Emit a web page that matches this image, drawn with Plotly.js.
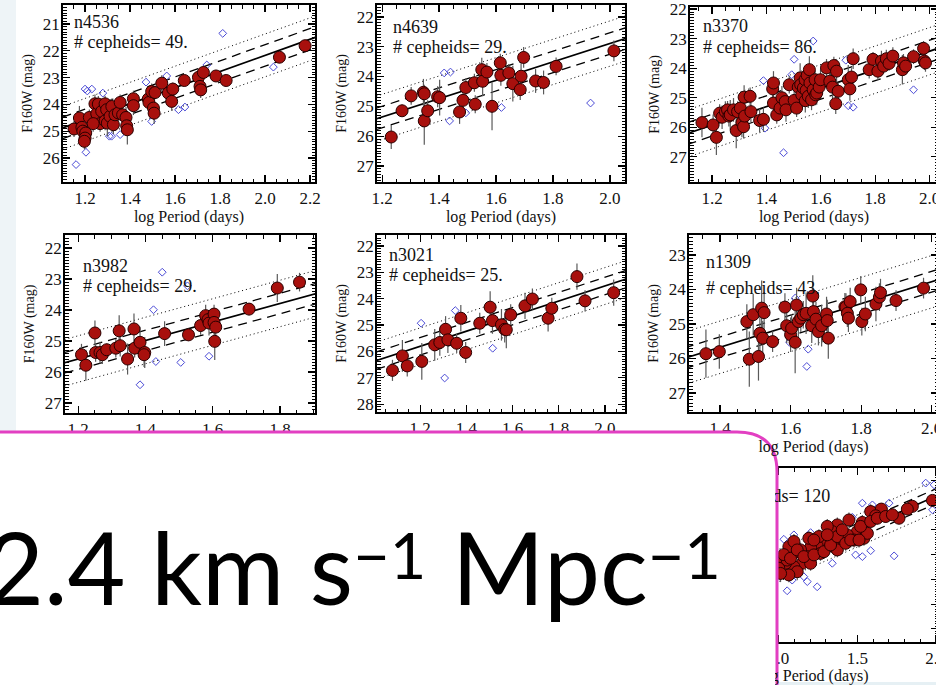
<!DOCTYPE html>
<html><head><meta charset="utf-8">
<script src="https://cdn.plot.ly/plotly-3.0.1.min.js"></script>
<style>html,body{margin:0;padding:0;overflow:hidden;background:#fff}#chart{width:980px;height:685px}</style>
</head><body><div id="chart"></div>
<script>
// ---------------- data ----------------
const p1Name = 'n4536', p1Count = '# cepheids= 49.';
const p1X = [1.151,1.175,1.186,1.190,1.203,1.200,1.197,1.219,1.244,1.252,1.259,1.267,1.274,1.289,1.289,1.296,1.299,1.311,1.319,1.326,1.333,1.348,1.356,1.367,1.382,1.385,1.388,1.415,1.415,1.481,1.484,1.496,1.504,1.507,1.511,1.541,1.570,1.585,1.590,1.641,1.704,1.711,1.714,1.726,1.782,1.827,2.064,2.178,1.236];
const p1Y = [24.92,24.51,24.86,25.00,25.07,25.26,25.38,24.49,23.98,24.35,23.99,24.72,24.26,23.98,24.62,24.20,24.70,24.45,24.08,24.76,24.39,24.32,23.93,24.39,24.49,24.80,24.95,23.79,24.05,23.80,23.93,23.52,24.14,24.33,23.56,23.21,23.58,23.89,23.43,23.11,22.99,23.33,23.46,22.81,22.94,23.11,22.24,21.81,24.72];
const p1Err = [0.3,0.45,0.3,0.25,0.35,0.4,0.3,0.3,0.35,0.4,0.3,0.3,0.45,0.3,0.35,0.4,0.5,0.35,0.3,0.35,0.4,0.3,0.3,0.35,0.4,0.3,0.55,0.3,0.35,0.3,0.25,0.3,0.3,0.4,0.25,0.3,0.3,0.35,0.25,0.2,0.3,0.35,0.3,0.25,0.2,0.2,0.15,0.15,0.3];
const p1RejX = [1.16,1.20,1.21,1.23,1.204,1.279,1.308,1.318,1.356,1.471,1.496,1.563,1.615,1.644,1.741,1.812,2.037];
const p1RejY = [26.25,23.43,23.50,23.43,25.79,23.58,25.19,25.19,25.13,23.17,24.64,22.94,24.20,24.10,22.53,21.35,22.61];
const p1FitX = [1.10, 2.23], p1FitY = [24.88, 21.48], p1Band = [0.40, 0.80];

const p2Name = 'n4639', p2Count = '# cepheids= 29.';
const p2X = [1.232,1.270,1.302,1.345,1.348,1.348,1.360,1.395,1.402,1.472,1.484,1.494,1.524,1.527,1.550,1.553,1.568,1.586,1.615,1.617,1.645,1.659,1.685,1.688,1.697,1.739,1.767,1.811,2.014];
const p2Y = [26.03,25.15,24.65,24.53,24.58,25.49,25.15,24.68,24.71,25.19,24.80,24.37,24.21,24.93,23.77,24.16,23.85,25.00,23.54,23.96,23.88,24.24,24.44,23.99,23.36,24.15,24.20,23.66,23.14];
const p2Err = [0.4,0.2,0.3,0.45,0.3,0.8,0.35,0.35,0.6,0.4,0.35,0.3,0.3,0.3,0.4,0.5,0.3,0.8,0.3,0.35,0.3,0.6,0.35,0.5,0.35,0.4,0.4,0.3,0.35];
const p2RejX = [1.418,1.440,1.437,1.494,1.619,1.932];
const p2RejY = [23.88,23.85,25.49,25.22,25.04,24.89];
const p2FitX = [1.18, 2.06], p2FitY = [25.42, 22.71], p2Band = [0.36, 0.76];

const p3Name = 'n3370', p3Count = '# cepheids= 86.';
const p3X = [1.163,1.204,1.216,1.228,1.237,1.249,1.257,1.262,1.267,1.279,1.289,1.294,1.304,1.310,1.316,1.318,1.320,1.340,1.343,1.375,1.389,1.423,1.426,1.426,1.438,1.450,1.457,1.469,1.472,1.484,1.502,1.511,1.517,1.524,1.526,1.530,1.536,1.542,1.543,1.546,1.550,1.554,1.558,1.560,1.566,1.572,1.579,1.581,1.585,1.594,1.599,1.621,1.633,1.643,1.648,1.655,1.658,1.664,1.701,1.707,1.713,1.719,1.778,1.792,1.810,1.823,1.831,1.841,1.851,1.865,1.900,1.904,1.912,1.941,1.978,1.981,1.985];
const p3Y = [25.84,25.92,26.34,25.52,25.66,25.47,25.41,25.62,25.58,25.41,26.11,25.47,25.35,25.84,25.98,24.98,25.62,24.95,25.47,25.77,25.73,24.70,24.50,25.18,25.58,25.35,25.00,25.13,25.41,24.56,25.09,25.35,24.64,24.33,24.56,24.90,24.67,24.39,25.10,24.75,24.24,24.95,24.05,24.50,25.07,24.73,24.39,24.90,24.84,24.64,24.39,23.99,24.44,24.64,23.91,25.20,24.10,24.78,24.39,24.70,24.30,23.68,24.05,23.70,24.10,23.76,23.93,23.68,23.84,23.59,24.05,23.82,23.93,23.61,23.33,23.76,23.82];
const p3Err = [0.5,0.35,0.6,0.3,0.4,0.35,0.3,0.35,0.5,0.4,0.6,0.35,0.3,0.5,0.4,0.4,0.3,0.3,0.35,0.4,0.4,0.3,0.4,0.35,0.3,0.35,0.4,0.3,0.4,0.3,0.35,0.3,0.4,0.5,0.3,0.35,0.4,0.3,0.4,0.35,0.3,0.4,0.45,0.3,0.35,0.4,0.3,0.35,0.4,0.3,0.35,0.3,0.35,0.4,0.3,0.35,0.4,0.3,0.5,0.4,0.3,0.35,0.3,0.25,0.3,0.35,0.25,0.3,0.25,0.3,0.5,0.3,0.3,0.25,0.25,0.3,0.3];
const p3RejX = [1.389,1.395,1.463,1.502,1.493,1.572,1.692,1.701,1.719,1.941];
const p3RejY = [24.42,26.03,26.86,23.70,24.22,23.08,23.73,25.27,25.32,24.73];
const p3FitX = [1.11, 2.04], p3FitY = [26.21, 23.30], p3Band = [0.37, 0.80];

const p4Name = 'n3982', p4Count = '# cepheids= 29.';
const p4X = [1.210,1.223,1.250,1.252,1.265,1.272,1.285,1.312,1.325,1.322,1.347,1.366,1.368,1.384,1.398,1.396,1.457,1.528,1.564,1.579,1.586,1.589,1.604,1.604,1.609,1.606,1.708,1.792,1.858];
const p4Y = [25.44,25.78,24.74,25.37,25.37,25.44,25.28,25.23,25.15,24.67,25.58,24.61,25.23,25.04,25.37,25.44,24.76,24.80,24.50,24.18,24.31,24.42,24.13,24.40,24.55,25.01,23.97,23.29,23.10];
const p4Err = [0.35,0.5,0.4,0.3,0.35,0.3,0.2,0.3,0.35,0.5,0.5,0.5,0.3,0.5,0.5,0.4,0.4,0.2,0.3,0.35,0.3,0.4,0.3,0.4,0.35,0.6,0.2,0.45,0.3];
const p4RejX = [1.450,1.525,1.424,1.431,1.384,1.505,1.589];
const p4RejY = [22.78,23.22,23.99,25.66,26.41,25.69,25.49];
const p4FitX = [1.16, 1.91], p4FitY = [25.70, 23.46], p4Band = [0.33, 0.75];

const p5Name = 'n3021', p5Count = '# cepheids= 25.';
const p5X = [1.080,1.123,1.144,1.207,1.263,1.285,1.310,1.320,1.358,1.376,1.397,1.458,1.503,1.513,1.552,1.566,1.573,1.592,1.654,1.686,1.754,1.770,1.879,1.914,2.038];
const p5Y = [26.72,26.17,26.55,26.38,25.75,25.66,25.16,25.56,25.69,24.74,26.04,24.93,24.32,24.83,24.99,25.16,25.18,24.61,24.27,24.01,24.74,24.36,23.16,24.08,23.77];
const p5Err = [0.4,0.6,0.4,0.7,0.6,0.5,0.5,0.5,0.35,0.5,0.4,0.4,0.6,0.5,0.6,0.5,0.7,0.4,0.5,0.4,0.5,0.4,0.5,0.4,0.5];
const p5RejX = [1.204,1.352,1.306,1.514];
const p5RejY = [24.93,24.45,27.01,25.88];
const p5FitX = [1.01, 2.09], p5FitY = [26.35, 23.26], p5Band = [0.33, 0.70];

const p6Name = 'n1309', p6Count = '# cepheids= 43.';
const p6X = [1.360,1.398,1.476,1.483,1.494,1.509,1.513,1.518,1.521,1.525,1.549,1.584,1.589,1.600,1.603,1.613,1.617,1.622,1.629,1.636,1.644,1.660,1.663,1.665,1.672,1.679,1.688,1.702,1.704,1.707,1.754,1.757,1.761,1.764,1.769,1.799,1.802,1.812,1.842,1.852,1.855,1.899,1.977];
const p6Y = [25.86,25.80,24.93,26.02,24.73,25.94,25.27,24.54,25.41,24.67,25.51,24.51,25.05,25.31,25.12,25.53,24.45,24.93,24.83,24.73,24.69,25.05,24.19,24.64,24.86,25.22,25.05,24.71,24.90,25.41,24.50,24.51,24.69,24.83,24.35,24.01,24.93,24.71,24.42,24.22,24.09,24.32,23.96];
const p6Err = [0.7,0.5,0.5,0.8,0.6,0.7,0.6,0.8,0.5,0.6,0.3,0.4,0.5,0.5,0.4,0.9,0.5,0.5,0.4,0.4,0.6,0.5,0.6,0.5,0.5,0.4,0.6,0.5,0.6,0.6,0.4,0.4,0.4,0.4,0.4,0.4,0.4,0.5,0.5,0.4,0.4,0.3,0.3];
const p6RejX = [1.613,1.597,1.650,1.646];
const p6RejY = [24.25,25.53,25.73,26.23];
const p6FitX = [1.30, 2.03], p6FitY = [25.99, 23.68], p6Band = [0.30, 0.76];

const p7Count = '# cepheids= 120';
const p7X = [1.850,1.978,1.585,1.653,1.765,1.617,1.532,1.500,1.542,1.564,1.479,1.394,1.373,1.341,1.309,1.351,1.277,1.245,1.266,1.203,1.182,1.139,1.150,1.092,1.097,1.065,1.044,1.012,1.001,1.203,1.256,1.436,1.309,1.447,1.373,1.192,1.118,1.065,1.054,1.097,1.033,1.075,1.118,1.160,1.224,1.288,1.330,1.373,1.404,1.426,1.458,1.511,1.521,1.585,1.627,1.680,1.723,1.818,1.309,1.224,1.012];
const p7Y = [22.05,21.81,22.26,22.16,22.53,22.43,22.70,23.07,23.34,23.14,23.41,23.41,22.80,23.07,23.41,23.68,23.54,23.65,23.95,23.71,24.08,23.81,24.35,23.95,24.49,23.68,24.35,24.22,24.55,24.35,23.27,23.20,22.86,22.60,23.81,23.34,24.69,24.82,24.22,23.47,24.00,24.15,23.81,24.08,24.01,23.88,23.61,23.27,23.00,23.54,23.41,23.41,22.86,22.66,22.53,22.46,22.39,22.16,23.20,23.41,24.76];
const p7Err = [0.2,0.2,0.3,0.25,0.2,0.3,0.3,0.35,0.3,0.25,0.3,0.35,0.3,0.3,0.35,0.3,0.3,0.35,0.3,0.3,0.35,0.3,0.35,0.3,0.3,0.3,0.35,0.3,0.3,0.3,0.3,0.25,0.3,0.3,0.3,0.3,0.35,0.3,0.3,0.3,0.3,0.35,0.3,0.3,0.3,0.3,0.3,0.3,0.25,0.3,0.3,0.3,0.25,0.25,0.25,0.25,0.2,0.25,0.3,0.3,0.35];
const p7RejX = [1.935,1.988,1.532,1.596,1.702,1.468,1.309,1.203,1.097,1.033,1.489,1.532,1.585,1.734,1.341,1.245,1.054,1.182,1.086,1.160,1.978];
const p7RejY = [21.11,21.18,21.92,21.99,21.92,22.49,22.89,23.11,23.20,23.38,24.01,24.08,23.84,24.05,24.35,25.30,25.46,25.09,25.03,24.89,22.19];
const p7FitX = [0.40, 2.05], p7FitY = [26.12, 21.50], p7Band = [0.30, 0.65];

const xTitle = 'log Period (days)', yTitle = 'F160W (mag)';
// superscripts: a small outer size keeps the raise modest, the inner size sets the glyph height
const SUP = t => `<span style="font-size:61px"><sup><span style="font-size:63px">${t}</span></sup></span>`;
const bigText = '2.4 km s' + SUP('−1') + ' Mpc' + SUP('−1');

// ---------------- layout helpers (pixels -> paper) ----------------
const W = 980, H = 685;
const X = px => px / W, Y = py => 1 - py / H;
const SERIF = 'Liberation Serif, Times New Roman, serif';

// showXT / showYT: whether the axis title is visible (not hidden behind the call-out box)
const panels = [
  {name:p1Name, count:p1Count, x:p1X, y:p1Y, e:p1Err, rx:p1RejX, ry:p1RejY, fx:p1FitX, fy:p1FitY, band:p1Band,
   box:[63,315,5,182], xr:[1.102,2.222], yr:[26.9,20.29], xd:0.2, xm:0.05, lab:[73,22,73,42], showXT:true, showYT:true},
  {name:p2Name, count:p2Count, x:p2X, y:p2Y, e:p2Err, rx:p2RejX, ry:p2RejY, fx:p2FitX, fy:p2FitY, band:p2Band,
   box:[377,625,5,182], xr:[1.182,2.053], yr:[27.54,21.6], xd:0.2, xm:0.05, lab:[392,27,392,47], showXT:true, showYT:true},
  {name:p3Name, count:p3Count, x:p3X, y:p3Y, e:p3Err, rx:p3RejX, ry:p3RejY, fx:p3FitX, fy:p3FitY, band:p3Band,
   box:[690,938,7,182], xr:[1.119,2.031], yr:[27.85,21.93], xd:0.2, xm:0.05, lab:[702,26,702,47], showXT:true, showYT:true},
  {name:p4Name, count:p4Count, x:p4X, y:p4Y, e:p4Err, rx:p4RejX, ry:p4RejY, fx:p4FitX, fy:p4FitY, band:p4Band,
   box:[65,315,235,413], xr:[1.161,1.904], yr:[27.32,21.58], xd:0.2, xm:0.05, lab:[82,266,82,286], showXT:false, showYT:true},
  {name:p5Name, count:p5Count, x:p5X, y:p5Y, e:p5Err, rx:p5RejX, ry:p5RejY, fx:p5FitX, fy:p5FitY, band:p5Band,
   box:[377,625,235,412], xr:[1.013,2.087], yr:[28.3,21.58], xd:0.2, xm:0.05, lab:[388,255,388,275], showXT:false, showYT:true},
  {name:p6Name, count:p6Count, x:p6X, y:p6Y, e:p6Err, rx:p6RejX, ry:p6RejY, fx:p6FitX, fy:p6FitY, band:p6Band,
   box:[689,938,235,412], xr:[1.312,2.018], yr:[27.55,22.42], xd:0.2, xm:0.05, lab:[705,262,705,288], showXT:true, showYT:true},
  {name:null, count:p7Count, x:p7X, y:p7Y, e:p7Err, rx:p7RejX, ry:p7RejY, fx:p7FitX, fy:p7FitY, band:p7Band,
   box:[689,938,468,642], xr:[0.43,2.013], yr:[27.53,20.5], xd:0.5, xm:0.1, lab:[null,null,831,496], countRight:true, showXT:true, showYT:false}
];

const traces = [];
const layout = {
  width: W, height: H, autosize:false,
  margin:{l:0,r:0,t:0,b:0,pad:0},
  paper_bgcolor:'#ffffff', plot_bgcolor:'#ffffff',
  showlegend:false, hovermode:false,
  font:{family:SERIF, color:'#111'},
  shapes:[], annotations:[]
};

panels.forEach((p, i) => {
  const s = i === 0 ? '' : String(i + 1);
  const xa = 'x' + s, ya = 'y' + s;
  const common = {showline:true, linecolor:'#000', linewidth:1.8, mirror:'ticks', ticks:'inside',
    tickcolor:'#000', tickwidth:1.2, ticklen:7, showgrid:false, zeroline:false,
    tickfont:{family:SERIF, size:17, color:'#111'}};
  const xax = Object.assign({}, common, {
    domain:[X(p.box[0]), X(p.box[1])], range:p.xr, anchor:ya, tick0:0, dtick:p.xd, tickformat:'.1f',
    minor:{ticks:'inside', ticklen:3.5, tick0:0, dtick:p.xm, tickcolor:'#000', tickwidth:1, showgrid:false}
  });
  if (p.showXT) xax.title = {text:xTitle, font:{family:SERIF, size:16, color:'#111'}, standoff:3};
  const yax = Object.assign({}, common, {
    domain:[Y(p.box[3]), Y(p.box[2])], range:p.yr, anchor:xa, tick0:0, dtick:1, tickformat:'d',
    showticklabels: p.showYT, ticklabelstandoff:-2,
    minor:{ticks:'inside', ticklen:3.5, tick0:0, dtick:0.1, tickcolor:'#000', tickwidth:1, showgrid:false}
  });
  if (p.showYT) yax.title = {text:yTitle, font:{family:SERIF, size:14, color:'#111'}, standoff:7};
  layout['xaxis' + s] = xax;
  layout['yaxis' + s] = yax;
  const lo = k => p.fy.map(v => v + p.band[k]);
  const hi = k => p.fy.map(v => v - p.band[k]);
  [[hi(1),'1px,3px',1],[lo(1),'1px,3px',1],[hi(0),'9px,6px',1.3],[lo(0),'9px,6px',1.3],[p.fy,'solid',1.7]]
    .forEach(([yy, dash, w]) => traces.push({type:'scatter', mode:'lines', x:p.fx, y:yy, xaxis:xa, yaxis:ya,
      line:{color:'#000', width:w, dash:dash}}));
  traces.push({type:'scatter', mode:'markers', x:p.rx, y:p.ry, xaxis:xa, yaxis:ya,
    marker:{symbol:'diamond-open', size:6, color:'#4a4ad6', line:{width:1, color:'#4a4ad6'}}});
  traces.push({type:'scatter', mode:'markers', x:p.x, y:p.y, xaxis:xa, yaxis:ya,
    error_y:{type:'data', array:p.e, visible:true, color:'#5a5a5a', thickness:1.2, width:0},
    marker:{symbol:'circle', size:12, color:'#a8100d', line:{color:'#2a0000', width:1}}});
  if (p.name) layout.annotations.push({xref:'paper', yref:'paper', x:X(p.lab[0]), y:Y(p.lab[1]),
    xanchor:'left', yanchor:'middle', text:p.name, showarrow:false, borderpad:0,
    font:{family:SERIF, size:18, color:'#111'}});
  layout.annotations.push({xref:'paper', yref:'paper', x:X(p.lab[2]), y:Y(p.lab[3]),
    xanchor:p.countRight ? 'right' : 'left', yanchor:'middle', text:p.count, showarrow:false, borderpad:0,
    font:{family:SERIF, size:18, color:'#111'}});
});

// slide background strips
layout.shapes.push({type:'rect', xref:'paper', yref:'paper', x0:0, x1:X(16), y0:Y(432), y1:1,
  fillcolor:'#eef4f7', line:{width:0}, layer:'below'});
layout.shapes.push({type:'rect', xref:'paper', yref:'paper', x0:X(779), x1:1, y0:0, y1:Y(682),
  fillcolor:'#e6f0f4', line:{width:0}, layer:'below'});
// pink call-out box with rounded top-right corner
layout.shapes.push({type:'path', xref:'paper', yref:'paper', layer:'above',
  path:`M ${X(-20)},${Y(432)} L ${X(737)},${Y(432)} Q ${X(777)},${Y(432)} ${X(777)},${Y(472)} L ${X(777)},${Y(720)} L ${X(-20)},${Y(720)} Z`,
  fillcolor:'#ffffff', line:{color:'#e23fc2', width:3}});
// big text; its white box also masks the label parts that sit behind the call-out
const pad = 31;
layout.annotations.push({xref:'paper', yref:'paper', x:X(-14 - pad), y:Y(475), xanchor:'left', yanchor:'top',
  text:bigText, showarrow:false, align:'left', valign:'top', width:775 - pad - (-14), height:200,
  bgcolor:'#ffffff', borderpad:pad, borderwidth:0,
  font:{family:'Lato, DejaVu Sans, sans-serif', size:100, color:'#000'}});

Plotly.newPlot('chart', traces, layout, {staticPlot:true, displayModeBar:false});
</script>
</body></html>
